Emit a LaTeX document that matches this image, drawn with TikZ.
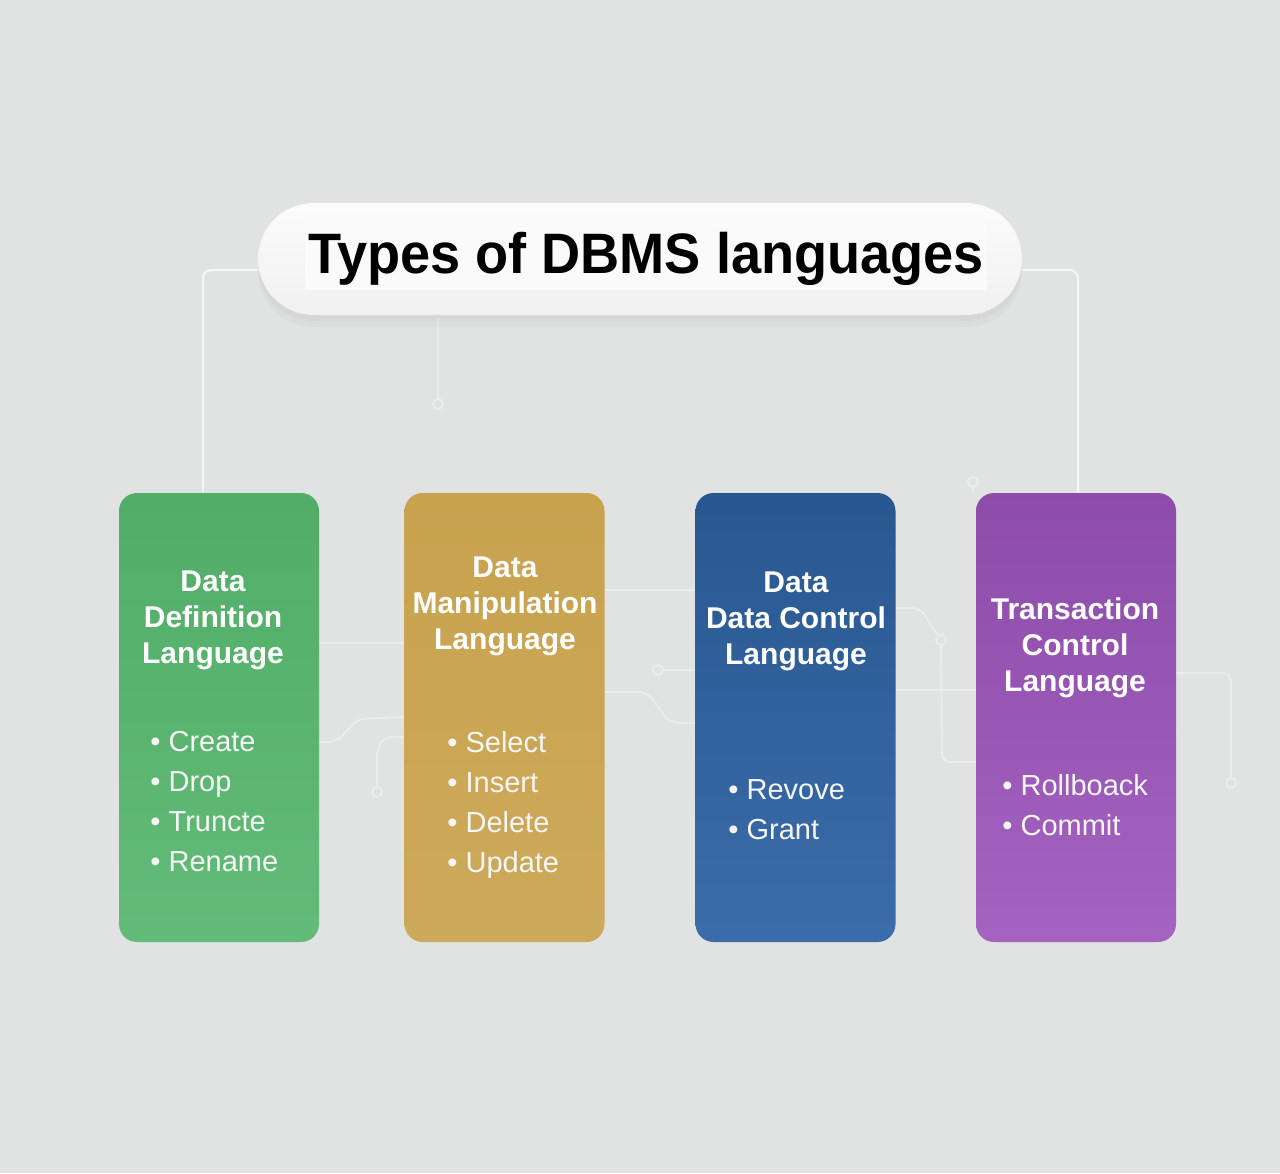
\documentclass[tikz,border=0pt]{standalone}
\usepackage{fontspec}
\setmainfont{Liberation Sans}
\definecolor{bgcol}{HTML}{E1E2E2}
\definecolor{ddlgreen}{HTML}{55B66D}
\definecolor{dmlgold}{HTML}{C8A24D}
\definecolor{dclblue}{HTML}{2E63A4}
\definecolor{tclpurple}{HTML}{9A52B9}
\begin{document}
\begin{tikzpicture}[x=0.5pt,y=-0.5pt,
  pill/.style={rounded corners=27.9pt,minimum width=382pt,minimum height=56pt,inner sep=0pt},
  langbox/.style={rounded corners=9pt,minimum width=100pt,minimum height=224.5pt,inner sep=0pt},
  head/.style={text=white,font=\bfseries\fontsize{15}{18}\selectfont,align=center,inner sep=0pt},
  item/.style={text=white!93!gray,font=\fontsize{14.5}{20}\selectfont,align=left,anchor=west,inner sep=0pt},
  trace/.style={draw=white,opacity=0.35,line width=1pt,rounded corners=4pt},
  dot/.style={circle,draw=white,opacity=0.35,line width=1pt,inner sep=0pt,minimum size=5pt}]
  \fill[bgcol] (0,0) rectangle (1280,1173);
  \useasboundingbox (0,0) rectangle (1280,1173);

  % faint circuit traces
  \node[dot] (d1) at (438,404) {};
  \draw[trace] (438,318) -- (d1);
  \draw[trace] (319,643) -- (404,643);
  \draw[trace] (319,742) -- (337,742) -- (357,719) -- (404,717);
  \node[dot] (d2) at (377,792) {};
  \draw[trace] (404,737) -- (385,737) -- (377,748) -- (d2);
  \draw[trace] (605,590) -- (695,590);
  \node[dot] (d3) at (658,670) {};
  \draw[trace] (d3) -- (695,670);
  \draw[trace] (605,692) -- (647,692) -- (670,723) -- (695,723);
  \node[dot] (d4) at (941,640) {};
  \draw[trace] (896,608) -- (920,608) -- (d4);
  \draw[trace] (d4) -- (942,762) -- (976,762);
  \draw[trace] (896,690) -- (976,690);
  \node[dot] (d5) at (1231,783) {};
  \draw[trace] (1176,673) -- (1231,673) -- (d5);
  \node[dot] (d6) at (973,482) {};
  \draw[trace] (d6) -- (973,493);

  % title
  \node[pill,fill=black,opacity=0.025] (pillshadow2) at (640,271) {};
  \node[pill,fill=black,opacity=0.025] (pillshadow) at (640,265) {};
  \node[pill,top color=white!97!gray,bottom color=bgcol!50!white] (pill) at (640,259) {};
  \node[fill=white!96!gray,minimum width=341pt,minimum height=39pt,inner sep=0pt] (titlebox) at (646,251) {};
  \node[anchor=base,inner sep=0pt] (title) at (646,273)
    {\scalebox{0.95}[1]{\bfseries\fontsize{28.5}{34}\selectfont Types of DBMS languages}};

  % language boxes
  \node[langbox,top color=ddlgreen!95!black,bottom color=ddlgreen!92!white] (ddl) at (219,717.5) {};
  \node[langbox,top color=dmlgold,bottom color=dmlgold!92!white] (dml) at (504.5,717.5) {};
  \node[langbox,top color=dclblue!88!black,bottom color=dclblue!94!white] (dcl) at (795.5,717.5) {};
  \node[langbox,top color=tclpurple!92!black,bottom color=tclpurple!90!white] (tcl) at (1076,717.5) {};

  \draw[trace,opacity=0.7] ([yshift=-5.5pt]pill.west) -| ([xshift=-8pt]ddl.north);
  \draw[trace,opacity=0.7] ([yshift=-5.5pt]pill.east) -| ([xshift=1pt]tcl.north);

  \node[head] (ddlhead) at (213,620) {Data\\Definition\\Language};
  \node[head] (dmlhead) at (505,606) {Data\\Manipulation\\Language};
  \node[head] (dclhead) at (796,621) {Data\\Data Control\\Language};
  \node[head] (tclhead) at (1075,648) {Transaction\\Control\\Language};

  \node[item] (ddllist) at (150,801.5) {• Create\\• Drop\\• Truncte\\• Rename};
  \node[item] (dmllist) at (447,804.5) {• Select\\• Insert\\• Delete\\• Update};
  \node[item] (dcllist) at (728,810) {• Revove\\• Grant};
  \node[item] (tcllist) at (1002,805) {• Rollboack\\• Commit};
\end{tikzpicture}
\end{document}
